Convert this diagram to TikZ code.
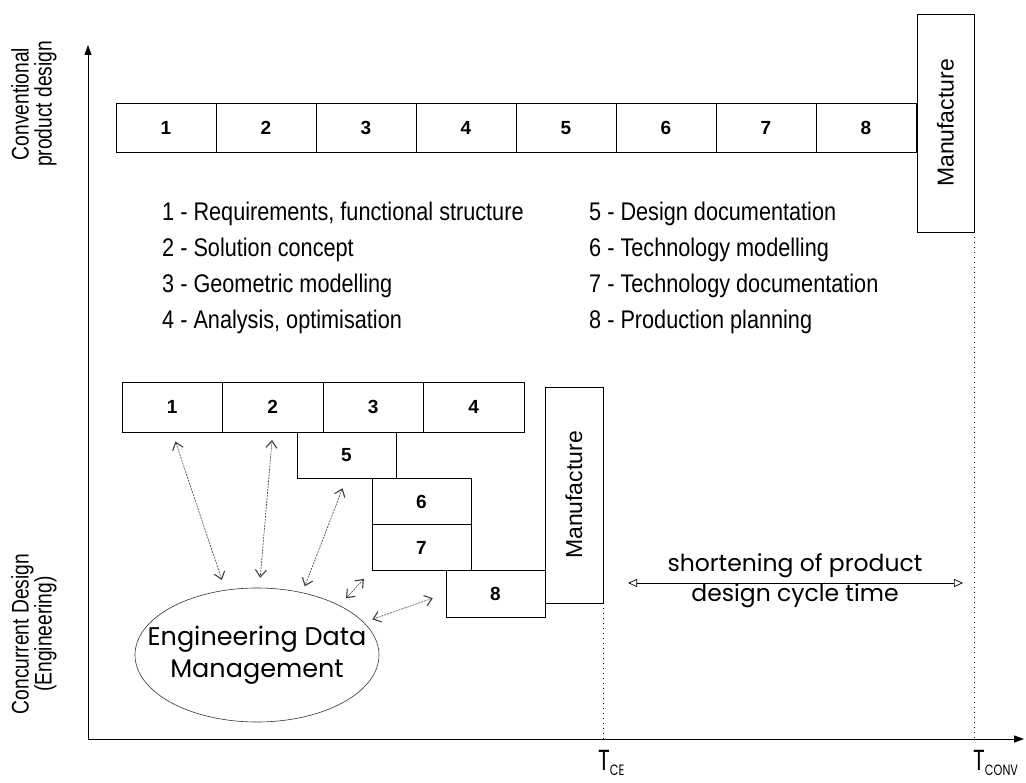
\documentclass[tikz,border=0pt]{standalone}
\usepackage{fontspec}
\setmainfont{Liberation Sans}
\newfontfamily\narrowfont[FakeStretch=0.85]{Liberation Sans}
\newfontfamily\axisfont[FakeStretch=0.8]{Liberation Sans}
\newfontfamily\gothfont{Poppins}
\newfontfamily\gothnarrow[FakeStretch=0.75]{Poppins}
\usetikzlibrary{arrows.meta,shapes.geometric}
\begin{document}
\begin{tikzpicture}[x=1pt,y=-1pt,
  stage/.style={draw, line width=0.8pt, inner sep=0pt, outer sep=0pt, text height=14pt, text depth=0pt, font=\bfseries\fontsize{19}{19}\selectfont},
  manuf/.style={draw, line width=0.8pt, inner sep=0pt, outer sep=0pt, font=\fontsize{23}{23}\selectfont},
  legend/.style={anchor=base west, inner sep=0pt, font=\narrowfont\fontsize{25.5}{25.5}\selectfont},
  axislabel/.style={rotate=90, align=center, inner sep=0pt, font=\axisfont\fontsize{24}{23}\selectfont},
  link/.style={{Straight Barb[length=7pt,width=11pt,line width=1.1pt]}-{Straight Barb[length=7pt,width=11pt,line width=1.1pt]}, line width=0.6pt, black!75, dash pattern=on 2pt off 1pt},
  axis/.style={line width=0.9pt, -{Triangle[length=10pt,width=7pt]}},
  guide/.style={line width=0.7pt, dash pattern=on 1pt off 4pt},
  span/.style={line width=0.7pt, {Triangle[open,length=9pt,width=8pt]}-{Triangle[open,length=9pt,width=8pt]}},
  tlabel/.style={anchor=base west, inner sep=0pt},
]
\useasboundingbox (0,0) rectangle (1026,783);
\fill[white] (0,0) rectangle (1026,783);

% axes
\coordinate (origin) at (88,739);
\coordinate (ytop) at (88,45);
\coordinate (xend) at (1024,739);
\draw[axis] (origin) -- (ytop);
\draw[axis] (origin) -- (xend);

% axis labels
\node[axislabel] (ylab1) at (34,104) {Conventional\\product design};
\node[axislabel] (ylab2) at (34,634) {Concurrent Design\\(Engineering)};

% conventional design row
\foreach \i/\x in {1/166,2/266,3/366,4/466,5/566,6/666,7/766,8/866}
  \node[stage, minimum width=100pt, minimum height=49pt] (c\i) at (\x,127.5) {\i};
\node[manuf, minimum width=57pt, minimum height=218pt] (cm) at (945.5,123) {\rotatebox{90}{Manufacture}};

% legend
\node[legend] (leg1) at (162,221) {1 - Requirements, functional structure};
\node[legend] (leg2) at (162,257) {2 - Solution concept};
\node[legend] (leg3) at (162,293) {3 - Geometric modelling};
\node[legend] (leg4) at (162,329) {4 - Analysis, optimisation};
\node[legend] (leg5) at (589,221) {5 - Design documentation};
\node[legend] (leg6) at (589,257) {6 - Technology modelling};
\node[legend] (leg7) at (589,293) {7 - Technology documentation};
\node[legend] (leg8) at (589,329) {8 - Production planning};

% concurrent design
\foreach \i/\x in {1/172.25,2/272.75,3/373.25,4/473.75}
  \node[stage, minimum width=100.5pt, minimum height=50pt] (l\i) at (\x,407) {\i};
\node[stage, minimum width=99pt, minimum height=46pt] (b5) at (346.5,455) {5};
\node[stage, minimum width=99pt, minimum height=46pt] (b6) at (421.5,501) {6};
\node[stage, minimum width=99pt, minimum height=46pt] (b7) at (421.5,547) {7};
\node[stage, minimum width=99pt, minimum height=47pt] (b8) at (495.5,593.5) {8};
\node[manuf, minimum width=58pt, minimum height=216pt] (lm) at (574,495) {\rotatebox{90}{Manufacture}};

% engineering data management
\node[ellipse, draw, line width=0.6pt, black!80, minimum width=244pt, minimum height=134pt, inner sep=0pt] (edm) at (257,655) {};
\node[align=center, inner sep=0pt, font=\gothfont\fontsize{25.5}{32}\selectfont] (edmtext) at (edm.center) {Engineering Data\\Management};

\draw[link, shorten <=10pt, shorten >=10.6pt] (l1.south) -- (edm.116);
\draw[link, shorten <=8pt, shorten >=10pt] (l2.south) -- (edm.88);
\draw[link, shorten <=11pt, shorten >=6.5pt] (b5.south) -- (edm.54);
\draw[link, shorten <=12pt, shorten >=9.5pt] (b7.south west) -- (edm.31);
\draw[link, shorten <=14pt, shorten >=9pt] (b8.west) -- (edm.17);

% time guides
\draw[guide] (lm.south east) -- (lm.south east |- origin);
\draw[guide] (cm.south east) -- (cm.south east |- origin);

% shortening arrow
\coordinate (sl) at (628,583);
\coordinate (sr) at (963,583);
\draw[span] (sl) -- (sr);
\node[align=center, inner sep=0pt, font=\gothfont\fontsize{23.5}{30}\selectfont] (short) at (795,581)
  {shortening of product\\design cycle time};

% time labels
\node[tlabel] (tce) at (598,770) {\gothnarrow\fontsize{29}{29}\selectfont T\raisebox{-5pt}{\fontsize{15}{15}\selectfont CE}};
\node[tlabel] (tconv) at (973,770) {\gothnarrow\fontsize{29}{29}\selectfont T\raisebox{-5pt}{\fontsize{15}{15}\selectfont CONV}};
\end{tikzpicture}
\end{document}
